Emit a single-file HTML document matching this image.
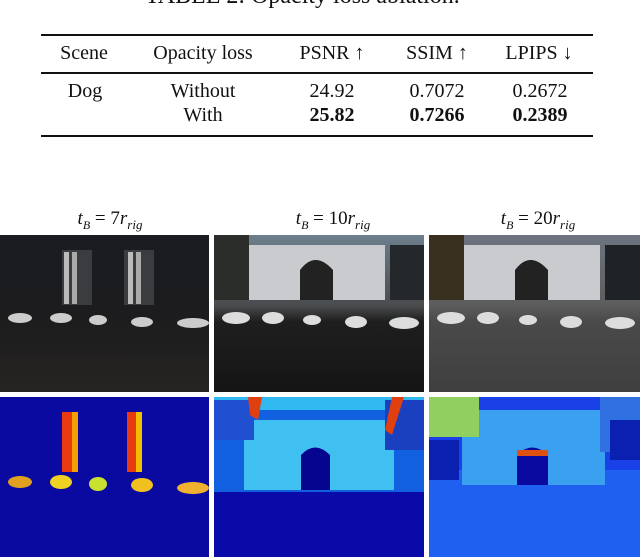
<!DOCTYPE html>
<html><head><meta charset="utf-8"><style>
body{margin:0;width:640px;height:558px;background:#fff;position:relative;overflow:hidden;font-family:"Liberation Serif",serif;color:#111}
.a{position:absolute}
.t{position:absolute;font-size:20px;white-space:nowrap;transform:translateX(-50%)}
.rule{position:absolute;left:41px;width:552px;background:#111}
.cap{position:absolute;font-size:19px;font-style:italic;transform:translateX(-50%);white-space:nowrap}
</style></head><body>
<div class="a" style="left:145px;top:-17px;font-size:24px;white-space:nowrap">TABLE 2: Opacity loss ablation.</div>
<div>
<div class="rule" style="top:34px;height:2px"></div>
<div class="rule" style="top:72px;height:1.5px"></div>
<div class="rule" style="top:135px;height:2px"></div>
<div class="t" style="left:84px;top:42px">Scene</div>
<div class="t" style="left:203px;top:42px">Opacity loss</div>
<div class="t" style="left:332px;top:42px">PSNR ↑</div>
<div class="t" style="left:437px;top:42px">SSIM ↑</div>
<div class="t" style="left:539px;top:42px">LPIPS ↓</div>
<div class="t" style="left:85px;top:80px">Dog</div>
<div class="t" style="left:203px;top:80px">Without</div>
<div class="t" style="left:332px;top:80px">24.92</div>
<div class="t" style="left:437px;top:80px">0.7072</div>
<div class="t" style="left:540px;top:80px">0.2672</div>
<div class="t" style="left:203px;top:104px">With</div>
<div class="t" style="left:332px;top:104px;font-weight:bold">25.82</div>
<div class="t" style="left:437px;top:104px;font-weight:bold">0.7266</div>
<div class="t" style="left:540px;top:104px;font-weight:bold">0.2389</div>
</div>
<div class="cap" style="left:110px;top:208px">t<sub style="font-size:12px">B</sub> <span style="font-style:normal">= 7</span>r<sub style="font-size:13px">rig</sub></div>
<div class="cap" style="left:333px;top:208px">t<sub style="font-size:12px">B</sub> <span style="font-style:normal">= 10</span>r<sub style="font-size:13px">rig</sub></div>
<div class="cap" style="left:538px;top:208px">t<sub style="font-size:12px">B</sub> <span style="font-style:normal">= 20</span>r<sub style="font-size:13px">rig</sub></div>

<svg class="a" style="left:0;top:0" width="640" height="558">
<defs>
<linearGradient id="g1" x1="0" y1="0" x2="0" y2="1"><stop offset="0" stop-color="#1a1c22"/><stop offset="0.5" stop-color="#1c1c1e"/><stop offset="1" stop-color="#262422"/></linearGradient>
<linearGradient id="g2" x1="0" y1="0" x2="0" y2="1"><stop offset="0" stop-color="#6d7f8c"/><stop offset="0.45" stop-color="#4a4c4e"/><stop offset="0.55" stop-color="#1e1e1e"/><stop offset="1" stop-color="#151515"/></linearGradient>
<linearGradient id="g3" x1="0" y1="0" x2="0" y2="1"><stop offset="0" stop-color="#6d7480"/><stop offset="0.45" stop-color="#5c5c5c"/><stop offset="0.55" stop-color="#4a4a4a"/><stop offset="1" stop-color="#3f3f40"/></linearGradient>
</defs>
<!-- row 1 photos -->
<g>
<rect x="0" y="235" width="209" height="157" fill="url(#g1)"/>
<rect x="62" y="250" width="30" height="55" fill="#3a3c40"/><rect x="124" y="250" width="30" height="55" fill="#3a3c40"/>
<rect x="64" y="252" width="5" height="52" fill="#bbb"/><rect x="72" y="252" width="5" height="52" fill="#aaa"/>
<rect x="128" y="252" width="5" height="52" fill="#bbb"/><rect x="136" y="252" width="5" height="52" fill="#aaa"/>
<ellipse cx="20" cy="318" rx="12" ry="5" fill="#ccc"/><ellipse cx="61" cy="318" rx="11" ry="5" fill="#ccc"/><ellipse cx="98" cy="320" rx="9" ry="5" fill="#ccc"/><ellipse cx="142" cy="322" rx="11" ry="5" fill="#ccc"/><ellipse cx="193" cy="323" rx="16" ry="5" fill="#ccc"/>
</g>
<g>
<rect x="214" y="235" width="210" height="157" fill="url(#g2)"/>
<path d="M247 245 L385 245 L385 300 L247 300 Z" fill="#c9cbce"/>
<path d="M300 300 L300 270 Q315 250 333 270 L333 300 Z" fill="#222"/>
<rect x="214" y="235" width="35" height="65" fill="#2a2d2a"/><rect x="390" y="245" width="34" height="55" fill="#25282a"/>
<ellipse cx="236" cy="318" rx="14" ry="6" fill="#ddd"/><ellipse cx="273" cy="318" rx="11" ry="6" fill="#ddd"/><ellipse cx="312" cy="320" rx="9" ry="5" fill="#ddd"/><ellipse cx="356" cy="322" rx="11" ry="6" fill="#ddd"/><ellipse cx="404" cy="323" rx="15" ry="6" fill="#ddd"/>
</g>
<g>
<rect x="429" y="235" width="211" height="157" fill="url(#g3)"/>
<path d="M462 245 L600 245 L600 300 L462 300 Z" fill="#c9cbce"/>
<path d="M515 300 L515 270 Q530 250 548 270 L548 300 Z" fill="#222"/>
<rect x="429" y="235" width="35" height="65" fill="#3a3020"/><rect x="605" y="245" width="35" height="55" fill="#202326"/>
<ellipse cx="451" cy="318" rx="14" ry="6" fill="#ddd"/><ellipse cx="488" cy="318" rx="11" ry="6" fill="#ddd"/><ellipse cx="528" cy="320" rx="9" ry="5" fill="#ddd"/><ellipse cx="571" cy="322" rx="11" ry="6" fill="#ddd"/><ellipse cx="620" cy="323" rx="15" ry="6" fill="#ddd"/>
</g>
<!-- row 2 heatmaps -->
<g>
<rect x="0" y="397" width="209" height="160" fill="#0a0aa0"/>
<rect x="62" y="412" width="10" height="60" fill="#e83a10"/><rect x="72" y="412" width="6" height="60" fill="#f5a000"/>
<rect x="127" y="412" width="9" height="60" fill="#e83a10"/><rect x="136" y="412" width="6" height="60" fill="#f0c000"/>
<ellipse cx="20" cy="482" rx="12" ry="6" fill="#e0a020"/><ellipse cx="61" cy="482" rx="11" ry="7" fill="#f0d020"/><ellipse cx="98" cy="484" rx="9" ry="7" fill="#c8e030"/><ellipse cx="142" cy="485" rx="11" ry="7" fill="#f0c020"/><ellipse cx="193" cy="488" rx="16" ry="6" fill="#f0b030"/>
</g>
<g>
<rect x="214" y="397" width="210" height="160" fill="#0a0aa8"/>
<rect x="214" y="397" width="210" height="95" fill="#1060e0"/>
<path d="M244 420 L394 420 L394 490 L244 490 Z" fill="#40c0f0"/>
<path d="M214 397 L424 397 L424 410 L214 410 Z" fill="#30b8f0"/>
<path d="M301 490 L301 455 Q315 440 330 455 L330 490 Z" fill="#050590"/>
<rect x="214" y="400" width="40" height="40" fill="#2050d0"/><rect x="385" y="400" width="39" height="50" fill="#1a40c0"/>
<path d="M248 397 L262 397 L258 420 L250 415 Z" fill="#e04010"/><path d="M392 397 L404 397 L392 435 L385 430 Z" fill="#e04010"/>
</g>
<g>
<rect x="429" y="397" width="211" height="160" fill="#1a40e8"/>
<rect x="429" y="470" width="211" height="87" fill="#2060f0"/>
<path d="M462 410 L605 410 L605 485 L462 485 Z" fill="#3aa0f0"/>
<path d="M517 485 L517 455 Q532 440 548 455 L548 485 Z" fill="#0a0aa0"/>
<rect x="517" y="450" width="31" height="6" fill="#e05010"/>
<rect x="429" y="397" width="50" height="40" fill="#90d060"/><rect x="600" y="397" width="40" height="55" fill="#3070e0"/>
<rect x="610" y="420" width="30" height="40" fill="#0a20b0"/>
<rect x="429" y="440" width="30" height="40" fill="#0a20b0"/>
</g>
</svg>
</body></html>
